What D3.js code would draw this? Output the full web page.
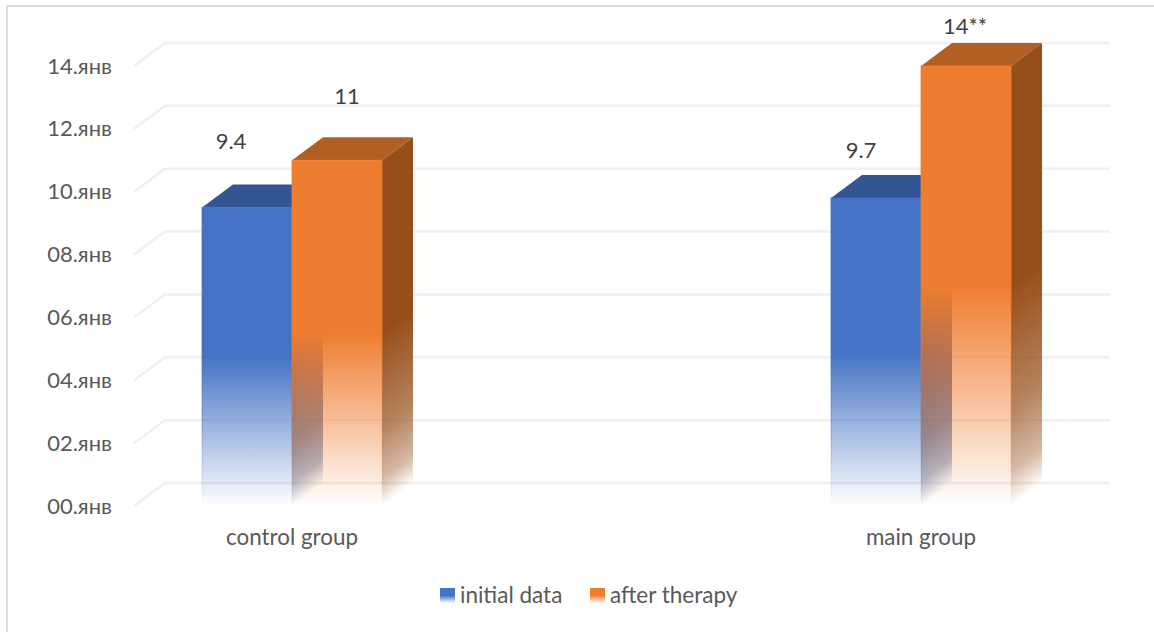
<!DOCTYPE html>
<html>
<head>
<meta charset="utf-8">
<script src="https://cdn.jsdelivr.net/npm/d3@7"></script>
<style>
  html, body { margin: 0; padding: 0; background: #fff; }
  svg { display: block; font-family: Lato, "Open Sans", sans-serif; }
</style>
</head>
<body>
<div id="chart"></div>
<script>
// values
const categories = ["control group", "main group"];
const seriesNames = ["initial data", "after therapy"];
const initialData = [9.5, 9.8];
const afterTherapy = [11, 14];
const initialLabels = ["9.4", "9.7"];
const afterLabels = ["11", "14**"];
const tickValues = [0, 2, 4, 6, 8, 10, 12, 14];
const tickLabels = ["00.янв", "02.янв", "04.янв", "06.янв", "08.янв", "10.янв", "12.янв", "14.янв"];

const width = 1154;
const height = 632;
const depthX = 31;
const depthY = 23;

const colours = [
  { front: "#4472c4", side: "#2f5597", top: "#335593" },
  { front: "#ef7d31", side: "#964f1b", top: "#b35f24" }
];

const svg = d3
  .select("#chart")
  .append("svg")
  .attr("width", width)
  .attr("height", height);

const defs = svg.append("defs");

// outer frame
svg
  .append("rect")
  .attr("x", 7)
  .attr("y", 6)
  .attr("width", 1160)
  .attr("height", 640)
  .attr("fill", "none")
  .attr("stroke", "#dcdcdc")
  .attr("stroke-width", 2);

const y = d3.scaleLinear().domain([0, 14]).range([506, 66]);
const x = d3.scalePoint().domain(categories).range([292, 921]);
const inner = d3.scaleBand().domain([0, 1]).range([-90, 90]);

// gridlines run along the side wall and then the back wall
svg
  .append("g")
  .selectAll("path")
  .data(tickValues)
  .enter()
  .append("path")
  .attr("fill", "none")
  .attr("stroke", "#f0f0f0")
  .attr("stroke-width", 2.5)
  .attr("d", (d) => {
    const p = d3.path();
    p.moveTo(134, y(d));
    p.lineTo(134 + depthX, y(d) - depthY);
    p.lineTo(1110, y(d) - depthY);
    return p.toString();
  });

// value axis, only the labels are visible
const axis = d3
  .axisLeft(y)
  .tickValues(tickValues)
  .tickSize(0)
  .tickPadding(0)
  .tickFormat((d, i) => tickLabels[i]);

const axisG = svg.append("g").attr("transform", "translate(112,0)").call(axis);
axisG.select(".domain").remove();
axisG
  .selectAll("text")
  .attr("fill", "#595959")
  .style("font-family", "Lato")
  .style("font-size", "22px");

function frontStops(gradient, colour) {
  gradient.append("stop").attr("offset", "0%").attr("stop-color", colour);
  gradient.append("stop").attr("offset", "50%").attr("stop-color", colour);
  gradient
    .append("stop")
    .attr("offset", "100%")
    .attr("stop-color", colour)
    .attr("stop-opacity", 0);
}

// side faces hold their colour longer than the fronts before fading out
function sideStops(gradient, colour) {
  [
    ["0%", 1],
    ["50%", 1],
    ["78%", 0.7],
    ["92%", 0.4],
    ["100%", 0]
  ].forEach((s) => {
    gradient
      .append("stop")
      .attr("offset", s[0])
      .attr("stop-color", colour)
      .attr("stop-opacity", s[1]);
  });
}

function verticalFade(id, colour) {
  const gradient = defs
    .append("linearGradient")
    .attr("id", id)
    .attr("x1", 0)
    .attr("y1", 0)
    .attr("x2", 0)
    .attr("y2", 1);
  frontStops(gradient, colour);
}

// the fade on the side face follows the depth direction, so the gradient is slanted
function sideFade(id, colour, x0, yMid) {
  const len = Math.hypot(depthX, depthY);
  const nx = depthY / len;
  const ny = depthX / len;
  const dist = (y(0) - yMid) * ny;
  const gradient = defs
    .append("linearGradient")
    .attr("id", id)
    .attr("gradientUnits", "userSpaceOnUse")
    .attr("x1", x0 - nx * dist)
    .attr("y1", yMid - ny * dist)
    .attr("x2", x0 + nx * dist)
    .attr("y2", yMid + ny * dist);
  sideStops(gradient, colour);
}

const bars = [];
categories.forEach((cat, c) => {
  [initialData, afterTherapy].forEach((values, s) => {
    bars.push({ cat: cat, c: c, s: s, value: values[c] });
  });
});

const barG = svg
  .append("g")
  .selectAll("g")
  .data(bars)
  .enter()
  .append("g");

barG.each(function (d) {
  const g = d3.select(this);
  const left = x(d.cat) + inner(d.s);
  const right = left + inner.bandwidth();
  const top = y(d.value);
  const bottom = y(0);
  const col = colours[d.s];
  const frontId = "front" + d.c + d.s;
  const sideId = "side" + d.c + d.s;

  verticalFade(frontId, col.front);
  sideFade(sideId, col.side, right, (top + bottom) / 2);

  g.append("polygon")
    .attr("fill", col.top)
    .attr(
      "points",
      [
        [left, top],
        [left + depthX, top - depthY],
        [right + depthX, top - depthY],
        [right, top]
      ].join(" ")
    );

  g.append("polygon")
    .attr("fill", "url(#" + sideId + ")")
    .attr(
      "points",
      [
        [right, top],
        [right + depthX, top - depthY],
        [right + depthX, bottom - depthY],
        [right, bottom]
      ].join(" ")
    );

  g.append("rect")
    .attr("x", left)
    .attr("y", top)
    .attr("width", right - left)
    .attr("height", bottom - top)
    .attr("fill", "url(#" + frontId + ")")
    .attr("stroke", "url(#" + frontId + ")")
    .attr("stroke-width", 0.8);
});

// data labels were dragged by hand in the original, so each has its own shift
const labelShift = [
  [-16, -66],
  [10, -64],
  [-15, -48],
  [-1, -40]
];
const allLabels = [initialLabels[0], afterLabels[0], initialLabels[1], afterLabels[1]];

svg
  .append("g")
  .selectAll("text")
  .data(bars)
  .enter()
  .append("text")
  .attr("x", (d, i) => x(d.cat) + inner(d.s) + inner.bandwidth() / 2 + labelShift[i][0])
  .attr("y", (d, i) => y(d.value) + labelShift[i][1])
  .attr("dy", "0.35em")
  .attr("text-anchor", "middle")
  .attr("fill", "#404040")
  .style("font-size", "22px")
  .text((d, i) => allLabels[i]);

// category labels
svg
  .append("g")
  .selectAll("text")
  .data(categories)
  .enter()
  .append("text")
  .attr("x", (d) => x(d))
  .attr("y", 537)
  .attr("dy", "0.35em")
  .attr("text-anchor", "middle")
  .attr("fill", "#595959")
  .style("font-size", "22.4px")
  .text((d) => d);

// legend
const legendX = [440, 590];
const legend = svg
  .append("g")
  .selectAll("g")
  .data(seriesNames)
  .enter()
  .append("g")
  .attr("transform", (d, i) => "translate(" + legendX[i] + ",588)");

legend.each(function (d, i) {
  verticalFade("legend" + i, colours[i].front);
});

legend
  .append("rect")
  .attr("width", 15)
  .attr("height", 15)
  .attr("fill", (d, i) => "url(#legend" + i + ")");

legend
  .append("text")
  .attr("x", 20)
  .attr("y", 7)
  .attr("dy", "0.35em")
  .attr("fill", "#595959")
  .style("font-size", "22.5px")
  .text((d) => d);
</script>
</body>
</html>
